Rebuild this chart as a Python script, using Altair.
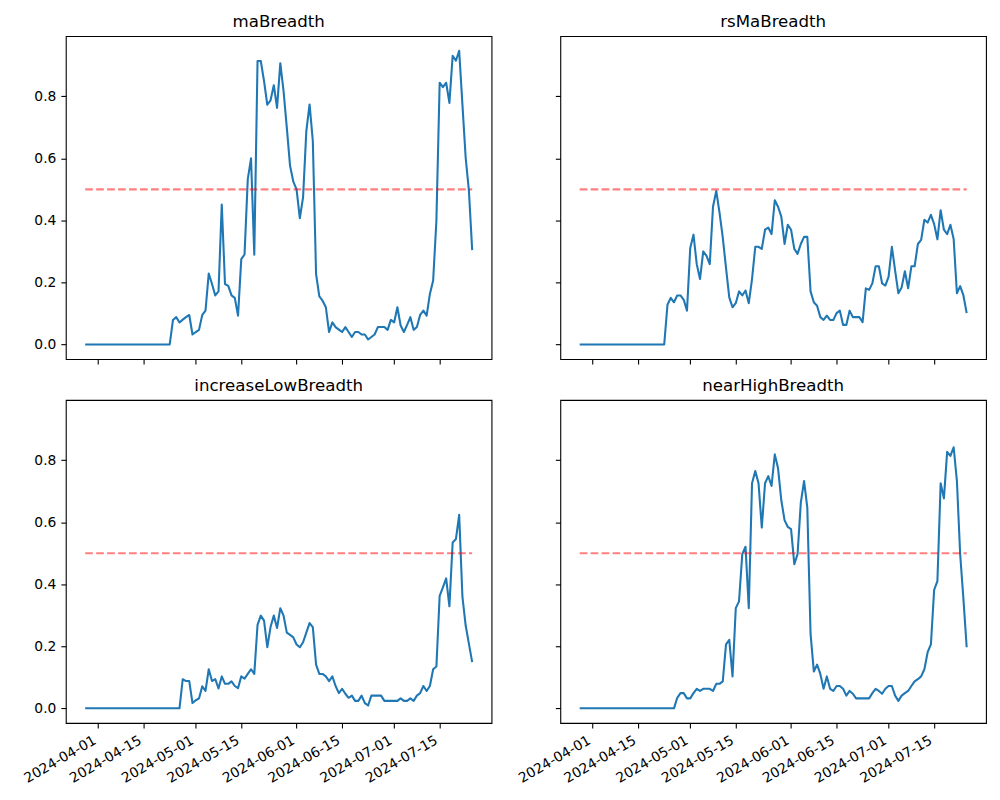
import altair as alt
import pandas as pd

dates = pd.date_range("2024-03-28", "2024-07-25", freq="D").strftime("%Y-%m-%d").tolist()

ma_breadth = [
    0, 0, 0, 0, 0, 0, 0, 0, 0, 0, 0, 0, 0, 0, 0, 0, 0, 0, 0, 0, 0, 0, 0, 0, 0, 0, 0,
    0.079, 0.088, 0.071, 0.080, 0.088, 0.095, 0.032, 0.040, 0.047, 0.095,
    0.109, 0.229, 0.195, 0.158, 0.171, 0.451, 0.195, 0.189, 0.158, 0.150,
    0.093, 0.275, 0.290, 0.533, 0.600, 0.289, 0.914, 0.914, 0.849, 0.773,
    0.787, 0.836, 0.763, 0.907, 0.817, 0.699, 0.576, 0.525, 0.500, 0.407,
    0.474, 0.688, 0.774, 0.656, 0.227, 0.155, 0.141, 0.120, 0.040, 0.071,
    0.056, 0.048, 0.040, 0.056, 0.040, 0.024, 0.040, 0.040, 0.032, 0.032,
    0.016, 0.024, 0.032, 0.056, 0.056, 0.056, 0.047, 0.079, 0.071, 0.120,
    0.061, 0.040, 0.063, 0.088, 0.047, 0.056, 0.095, 0.109, 0.093, 0.163,
    0.206, 0.399, 0.844, 0.830, 0.844, 0.779, 0.931, 0.915, 0.947, 0.774,
    0.602, 0.495, 0.304,
]

rs_ma_breadth = [
    0, 0, 0, 0, 0, 0, 0, 0, 0, 0, 0, 0, 0, 0, 0, 0, 0, 0, 0, 0, 0, 0, 0, 0, 0, 0, 0,
    0.128, 0.150, 0.136, 0.158, 0.158, 0.144, 0.109, 0.311, 0.354, 0.259,
    0.211, 0.300, 0.286, 0.259, 0.444, 0.495, 0.425, 0.345, 0.247, 0.152,
    0.120, 0.133, 0.171, 0.158, 0.174, 0.133, 0.211, 0.315, 0.315, 0.308,
    0.370, 0.377, 0.356, 0.465, 0.444, 0.412, 0.324, 0.386, 0.370, 0.308,
    0.292, 0.324, 0.347, 0.347, 0.171, 0.136, 0.125, 0.088, 0.079, 0.093,
    0.079, 0.079, 0.101, 0.109, 0.063, 0.063, 0.109, 0.088, 0.088, 0.088,
    0.072, 0.181, 0.176, 0.197, 0.252, 0.252, 0.197, 0.190, 0.219, 0.315,
    0.238, 0.165, 0.184, 0.236, 0.181, 0.252, 0.252, 0.324, 0.337, 0.402,
    0.393, 0.418, 0.388, 0.339, 0.433, 0.370, 0.356, 0.386, 0.340, 0.165,
    0.188, 0.158, 0.101,
]

increase_low_breadth = [
    0, 0, 0, 0, 0, 0, 0, 0, 0, 0, 0, 0, 0, 0, 0, 0, 0, 0, 0, 0, 0, 0, 0, 0, 0, 0, 0, 0, 0, 0,
    0.094, 0.088, 0.088, 0.017, 0.026, 0.032, 0.071, 0.056, 0.126, 0.088,
    0.094, 0.064, 0.103, 0.079, 0.079, 0.087, 0.072, 0.065, 0.103, 0.096,
    0.111, 0.126, 0.111, 0.269, 0.299, 0.283, 0.197, 0.262, 0.299, 0.259,
    0.323, 0.299, 0.244, 0.237, 0.229, 0.206, 0.197, 0.213, 0.244, 0.275,
    0.262, 0.141, 0.111, 0.111, 0.103, 0.088, 0.103, 0.072, 0.049, 0.063,
    0.047, 0.034, 0.041, 0.024, 0.024, 0.041, 0.017, 0.009, 0.041, 0.041,
    0.041, 0.041, 0.024, 0.024, 0.024, 0.024, 0.024, 0.032, 0.024, 0.024,
    0.032, 0.024, 0.041, 0.049, 0.072, 0.056, 0.072, 0.126, 0.135, 0.363,
    0.390, 0.419, 0.329, 0.535, 0.546, 0.624, 0.360, 0.267, 0.208, 0.149,
]

near_high_breadth = [
    0, 0, 0, 0, 0, 0, 0, 0, 0, 0, 0, 0, 0, 0, 0, 0, 0, 0, 0, 0, 0, 0, 0, 0, 0, 0, 0, 0, 0, 0,
    0.034, 0.049, 0.049, 0.032, 0.032, 0.049, 0.063, 0.056, 0.063, 0.063,
    0.063, 0.056, 0.079, 0.079, 0.087, 0.206, 0.221, 0.103, 0.323, 0.345,
    0.497, 0.521, 0.323, 0.726, 0.765, 0.726, 0.583, 0.726, 0.749, 0.717,
    0.819, 0.774, 0.671, 0.607, 0.585, 0.578, 0.465, 0.497, 0.663, 0.733,
    0.647, 0.240, 0.119, 0.141, 0.111, 0.063, 0.103, 0.063, 0.056, 0.072,
    0.072, 0.063, 0.041, 0.056, 0.047, 0.032, 0.032, 0.032, 0.032, 0.032,
    0.049, 0.063, 0.056, 0.047, 0.063, 0.072, 0.072, 0.041, 0.024, 0.041,
    0.049, 0.056, 0.072, 0.087, 0.094, 0.103, 0.126, 0.181, 0.206, 0.382,
    0.410, 0.726, 0.677, 0.827, 0.814, 0.842, 0.733, 0.497, 0.353, 0.197,
]

titles = ["maBreadth", "rsMaBreadth", "increaseLowBreadth", "nearHighBreadth"]
threshold = 0.5
y_ticks = [0.0, 0.2, 0.4, 0.6, 0.8]
x_ticks = ["2024-04-01", "2024-04-15", "2024-05-01", "2024-05-15",
           "2024-06-01", "2024-06-15", "2024-07-01", "2024-07-15"]

for s in (ma_breadth, rs_ma_breadth, increase_low_breadth, near_high_breadth):
    if len(s) != len(dates):
        raise SystemExit(f"length mismatch {len(s)} vs {len(dates)}")

df = pd.DataFrame({
    "date": dates,
    "maBreadth": ma_breadth,
    "rsMaBreadth": rs_ma_breadth,
    "increaseLowBreadth": increase_low_breadth,
    "nearHighBreadth": near_high_breadth,
})
ref_df = pd.DataFrame({"date": [dates[0], dates[-1]], "v": [threshold, threshold]})

# matplotlib-like 5% margins
t0 = pd.Timestamp(dates[0])
t1 = pd.Timestamp(dates[-1])
span = t1 - t0
d0 = t0 - span * 0.05
d1 = t1 + span * 0.05
ymax = max(max(ma_breadth), max(rs_ma_breadth), max(increase_low_breadth), max(near_high_breadth))
ymin = 0.0
yr = ymax - ymin


def dt(ts):
    return alt.DateTime(year=ts.year, month=ts.month, date=ts.day,
                        hours=ts.hour, minutes=ts.minute, utc=True)


x_scale = alt.Scale(type="utc", domain=[dt(d0), dt(d1)], nice=False)
y_scale = alt.Scale(domain=[ymin - 0.05 * yr, ymax + 0.05 * yr], nice=False, zero=False)
x_tick_vals = [dt(pd.Timestamp(v)) for v in x_ticks]

FONT = "DejaVu Sans"
LW = 2.08


def x_axis(show):
    return alt.Axis(values=x_tick_vals, labelExpr="utcFormat(datum.value, '%Y-%m-%d')",
                    labels=show, labelAngle=330, labelAlign="right", labelBaseline="top",
                    labelOffset=-7, labelPadding=5, labelFont=FONT, labelFontSize=13.9,
                    labelColor="black", labelOverlap=False, labelBound=False, labelFlush=False,
                    ticks=True, tickSize=5, tickWidth=1.1, tickColor="black",
                    domain=False, grid=False, title=None)


def y_axis(show):
    return alt.Axis(values=y_ticks, format=".1f", labels=show, labelPadding=5,
                    labelFont=FONT, labelFontSize=13.9, labelColor="black",
                    labelOverlap=False, labelBound=False, labelFlush=False,
                    ticks=True, tickSize=5, tickWidth=1.1, tickColor="black",
                    domain=False, grid=False, title=None)


def panel(col, show_x, show_y):
    line = alt.Chart(df).mark_line(color="#1f77b4", strokeWidth=LW, strokeJoin="round").encode(
        x=alt.X("date:T", scale=x_scale, axis=x_axis(show_x)),
        y=alt.Y(f"{col}:Q", scale=y_scale, axis=y_axis(show_y)),
    )
    rule = alt.Chart(ref_df).mark_line(color="red", opacity=0.5, strokeWidth=LW,
                                       strokeDash=[7.7, 3.3]).encode(
        x=alt.X("date:T", scale=x_scale, axis=x_axis(show_x)),
        y=alt.Y("v:Q", scale=y_scale, axis=y_axis(show_y)),
    )
    return alt.layer(line, rule).properties(
        width=427, height=324,
        title=alt.TitleParams(col, font=FONT, fontSize=16.7, fontWeight="normal",
                              color="black", offset=-12, anchor="middle", baseline="bottom"),
    )


chart = alt.concat(
    panel(titles[0], False, True),
    panel(titles[1], False, False),
    panel(titles[2], True, True),
    panel(titles[3], True, False),
    columns=2,
    spacing={"row": 11, "column": 22},
).properties(
    padding={"left": 12, "top": 4, "right": 5, "bottom": 5},
    background="white",
).configure_view(stroke="black", strokeWidth=1.1)

chart.save("out.html", embed_options={"renderer": "svg", "actions": False})
